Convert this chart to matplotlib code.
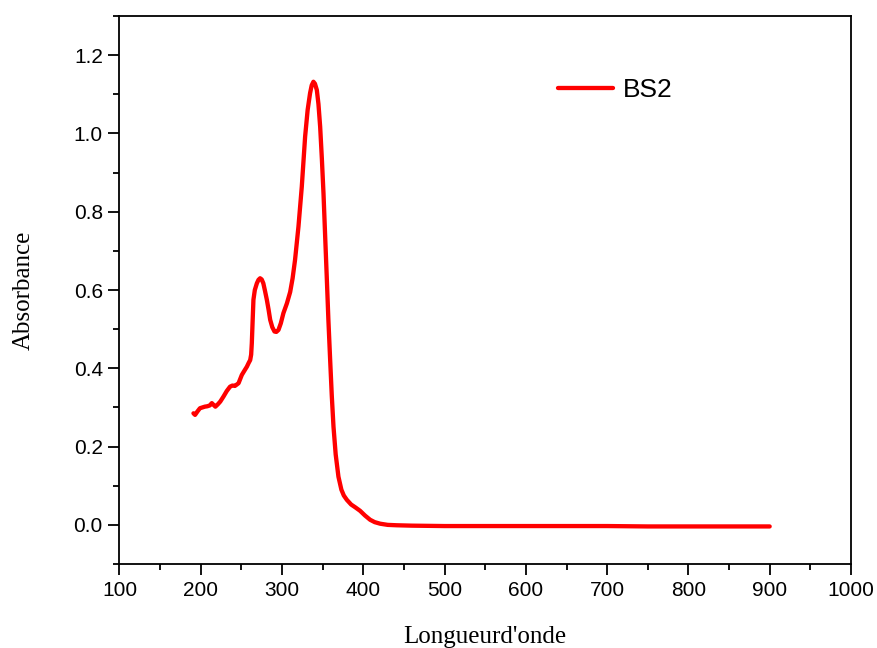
import matplotlib
matplotlib.use("Agg")
import matplotlib.pyplot as plt
from matplotlib.ticker import MultipleLocator

# Data
wavelength = [191, 193, 196, 199, 202, 205, 208, 211, 213.6, 216, 218, 221, 224, 228, 232, 236,
              239, 242, 244, 246.5, 250.5, 254, 256.7, 259, 260.8, 262, 262.8, 263.8, 264.8,
              266.5, 269, 271, 273, 275, 277, 279, 281.3, 283.5, 285.4, 288, 290.7, 293,
              295.6, 298.5, 301.7, 306, 310, 313, 316, 320.2, 324.3, 328.4, 331.5, 334.5,
              336.5, 338.6, 340.5, 342.8, 344.8, 346.9, 349, 351, 353, 355, 357, 359.2,
              361.2, 363.3, 366, 369.4, 373, 376, 379.7, 385, 390, 396, 402, 408.4, 414,
              420.7, 430, 441, 460, 500, 550, 600, 650, 700, 750, 800, 850, 900]
absorbance = [0.285, 0.281, 0.290, 0.298, 0.300, 0.302, 0.303, 0.305, 0.311, 0.306, 0.302,
              0.308, 0.315, 0.328, 0.342, 0.353, 0.356, 0.355, 0.358, 0.362, 0.383, 0.395,
              0.404, 0.414, 0.421, 0.435, 0.464, 0.520, 0.575, 0.600, 0.617, 0.626, 0.630,
              0.627, 0.617, 0.598, 0.575, 0.549, 0.524, 0.505, 0.494, 0.493, 0.498, 0.515,
              0.541, 0.566, 0.595, 0.630, 0.677, 0.762, 0.864, 0.992, 1.060, 1.103, 1.123,
              1.132, 1.127, 1.111, 1.075, 1.017, 0.935, 0.847, 0.740, 0.634, 0.525, 0.421,
              0.330, 0.251, 0.180, 0.123, 0.090, 0.075, 0.064, 0.052, 0.045, 0.036, 0.024,
              0.013, 0.007, 0.003, 0.000, -0.001, -0.002, -0.003, -0.003, -0.003, -0.003,
              -0.003, -0.004, -0.004, -0.004, -0.004]
series_label = "BS2"
x_label = "Longueurd'onde"
y_label = "Absorbance"

fig = plt.figure(figsize=(8.78, 6.48), dpi=100)
ax = fig.add_axes([0.1361, 0.1296, 0.8331, 0.8457])

ax.plot(wavelength, absorbance, color="#ff0000", lw=3.1, label=series_label,
        solid_joinstyle="round", solid_capstyle="round")

ax.set_xlim(100, 1000)
ax.set_ylim(-0.1, 1.3)
ax.xaxis.set_major_locator(MultipleLocator(100))
ax.xaxis.set_minor_locator(MultipleLocator(50))
ax.yaxis.set_major_locator(MultipleLocator(0.2))
ax.yaxis.set_minor_locator(MultipleLocator(0.1))
ax.set_yticks([0.0, 0.2, 0.4, 0.6, 0.8, 1.0, 1.2])
ax.set_yticklabels(["0.0", "0.2", "0.4", "0.6", "0.8", "1.0", "1.2"])

for s in ax.spines.values():
    s.set_linewidth(1.3)
ax.tick_params(which="major", direction="out", length=8, width=1.3,
               labelsize=15, pad=4)
ax.tick_params(which="minor", direction="out", length=4, width=1.3)
for lab in ax.get_xticklabels() + ax.get_yticklabels():
    lab.set_family("Liberation Sans")

ax.set_xlabel(x_label, family="Liberation Serif", fontsize=18, labelpad=19)
ax.set_ylabel(y_label, family="Liberation Serif", fontsize=18, labelpad=28)

leg = ax.legend(loc="upper left", bbox_to_anchor=(0.567, 0.93), frameon=False,
                prop={"family": "Liberation Sans", "size": 19},
                handlelength=2.1, handletextpad=0.35)

fig.savefig("out.png", dpi=100)
